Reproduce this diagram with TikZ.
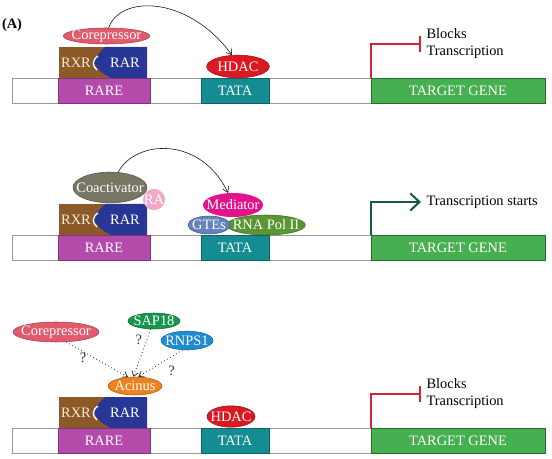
\documentclass[tikz,border=0pt]{standalone}
\usepackage{fontspec}
\setmainfont{Liberation Serif}
\usetikzlibrary{shapes.geometric,arrows.meta}
\definecolor{rarec}{RGB}{180,75,170}
\definecolor{tatac}{RGB}{20,140,145}
\definecolor{genec}{RGB}{70,175,80}
\definecolor{rxrc}{RGB}{140,90,40}
\definecolor{rarc}{RGB}{40,55,150}
\definecolor{rxrtxt}{RGB}{250,235,210}
\definecolor{corepc}{RGB}{225,90,110}
\definecolor{hdacc}{RGB}{220,25,35}
\definecolor{coactc}{RGB}{120,118,100}
\definecolor{rac}{RGB}{240,170,200}
\definecolor{medc}{RGB}{225,20,140}
\definecolor{gtec}{RGB}{100,130,190}
\definecolor{polc}{RGB}{90,150,50}
\definecolor{acinc}{RGB}{240,130,30}
\definecolor{sapc}{RGB}{25,150,75}
\definecolor{rnpsc}{RGB}{30,140,210}
\definecolor{stopc}{RGB}{215,35,55}
\definecolor{goc}{RGB}{20,90,60}
\begin{document}
\begin{tikzpicture}[x=0.75pt,y=-0.75pt,font=\fontsize{10.8}{12.75}\selectfont]
\tikzstyle{box} = [rectangle,text=white,minimum height=18.75pt,inner sep=0pt]
\tikzstyle{prot} = [ellipse,inner sep=0pt]
\tikzstyle{txt} = [text=white,inner sep=0pt]
\tikzstyle{link} = [-{Straight Barb[length=4pt,width=5pt]},thin]
\tikzstyle{maybe} = [-{Straight Barb[length=3.5pt,width=5pt]},dotted,semithick,black!80]
\tikzstyle{stop} = [stopc,line width=1.5pt,-{Bar[width=12pt]}]
\tikzstyle{go} = [goc,line width=1.5pt,-{Straight Barb[length=7pt,width=13pt]}]
\tikzstyle{note} = [anchor=west,align=left,inner sep=4pt]
\useasboundingbox (0,0) rectangle (552,459);
\node[font=\fontsize{10.8}{12}\bfseries] (lblA) at (12,25) {(A)};
% DNA strands
\foreach \n/\y in {1/78,2/235,3/428} {
	\draw[gray!80] (12,\y) rectangle (545,\y+25);
	\node[box,fill=rarec,draw=rarec!70!black,minimum width=69pt] (rare\n) at (104,\y+12.5) {RARE};
	\node[box,fill=tatac,draw=tatac!70!black,minimum width=51pt] (tata\n) at (235,\y+12.5) {TATA};
	\node[box,fill=genec,draw=genec!60!black,minimum width=130.5pt] (gene\n) at (458,\y+12.5) {TARGET GENE};
	\fill[rxrc] (59,\y-31) rectangle (147,\y);
	\fill[rarc] (105,\y-31) -- (147,\y-31) -- (147,\y) -- (111,\y)
		.. controls (100,\y-6) .. (93,\y-16) .. controls (98,\y-24) .. (105,\y-31);
	\draw[white,line width=1pt] (98,\y-22) .. controls (92,\y-18) and (92,\y-12) .. (97,\y-8);
	\node[text=rxrtxt] (rxr\n) at (76,\y-15) {RXR};
	\node[text=white] (rar\n) at (125,\y-15) {RAR};
}
% repression
\node[prot,fill=corepc,draw=corepc!70!black,minimum width=65pt,minimum height=12pt,
	label={[txt]center:Corepressor}] (corep1) at (106.5,36) {};
\node[prot,fill=hdacc,draw=hdacc!70!black,minimum width=47pt,minimum height=17pt,
	label={[txt]center:HDAC}] (hdac1) at (238,66.5) {};
\draw[link] (corep1.75) .. controls (120,-5) and (188,-5) .. (hdac1.118);
\node[note] (blk1) at (421,44) {Blocks\\Transcription};
\draw[stop] (gene1.north west) |- (blk1.west);
% activation
\node[prot,fill=rac,minimum width=16.5pt,minimum height=16pt,
	label={[txt]center:RA}] (ra) at (154,199.5) {};
\node[prot,fill=coactc,draw=coactc!70!black,minimum width=55.5pt,minimum height=23pt,
	label={[txt]center:Coactivator}] (coact) at (110,187.5) {};
\node[prot,fill=polc,draw=polc!70!black,minimum width=59pt,minimum height=15pt,
	label={[txt]center:RNA Pol II}] (pol) at (266,225) {};
\node[prot,fill=gtec,draw=gtec!70!black,minimum width=31.5pt,minimum height=13.5pt,
	label={[txt]center:GTEs}] (gte) at (209,225) {};
\node[prot,fill=medc,minimum width=45pt,minimum height=18pt,
	label={[txt]center:Mediator}] (med) at (233,205) {};
\draw[link] (coact.62) .. controls (135,140) and (200,135) .. (med.112);
\node[note] (starts) at (421,202) {Transcription starts};
\draw[go] (gene2.north west) |- (starts.west);
% acinus
\node[prot,fill=corepc,draw=corepc!70!black,minimum width=64.5pt,minimum height=15pt,
	label={[txt]center:Corepressor}] (corep3) at (56,332) {};
\node[prot,fill=sapc,draw=sapc!70!black,minimum width=39pt,minimum height=12pt,
	label={[txt]center:SAP18}] (sap) at (154,321) {};
\node[prot,fill=rnpsc,draw=rnpsc!70!black,minimum width=39pt,minimum height=14pt,
	label={[txt]center:RNPS1}] (rnps) at (187,340.5) {};
\node[prot,fill=acinc,draw=acinc!70!black,minimum width=40.5pt,minimum height=13.5pt,
	label={[txt]center:Acinus}] (acin) at (135,386) {};
\node[prot,fill=hdacc,draw=hdacc!70!black,minimum width=36pt,minimum height=16pt,
	label={[txt]center:HDAC}] (hdac3) at (231,416.5) {};
\draw[maybe] (corep3.-45) -- (acin.128) node[pos=.45,left=2pt] (q1) {?};
\draw[maybe] (sap.-112) -- (acin.100) node[pos=.22,left=0pt] (q2) {?};
\draw[maybe] (rnps.-115) -- (acin.70) node[pos=.25,below=3pt] (q3) {?};
\node[note] (blk3) at (421,394) {Blocks\\Transcription};
\draw[stop] (gene3.north west) |- (blk3.west);
\end{tikzpicture}
\end{document}
